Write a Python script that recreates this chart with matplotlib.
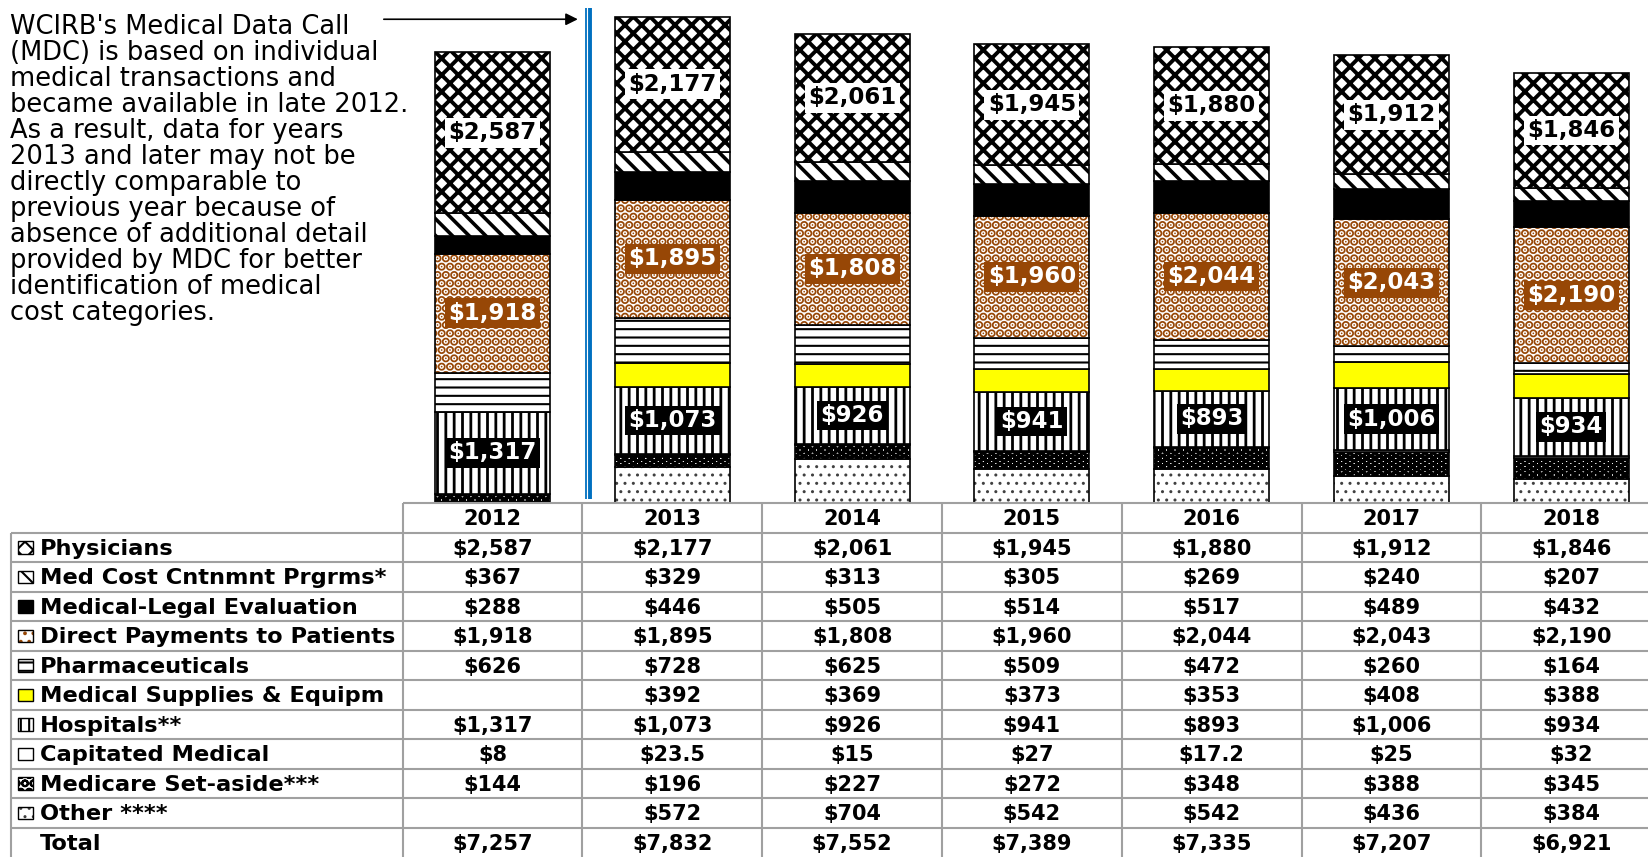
import matplotlib.pyplot as plt
from matplotlib.patches import Rectangle

years = ['2012', '2013', '2014', '2015', '2016', '2017', '2018']

# table order, top to bottom (the stack is drawn bottom-up, so reversed)
physicians = [2587, 2177, 2061, 1945, 1880, 1912, 1846]
med_cost = [367, 329, 313, 305, 269, 240, 207]
med_legal = [288, 446, 505, 514, 517, 489, 432]
direct_pay = [1918, 1895, 1808, 1960, 2044, 2043, 2190]
pharma = [626, 728, 625, 509, 472, 260, 164]
supplies = [None, 392, 369, 373, 353, 408, 388]
hospitals = [1317, 1073, 926, 941, 893, 1006, 934]
capitated = [8, 23.5, 15, 27, 17.2, 25, 32]
medicare = [144, 196, 227, 272, 348, 388, 345]
other = [None, 572, 704, 542, 542, 436, 384]
totals = [7257, 7832, 7552, 7389, 7335, 7207, 6921]

row_labels = ['Physicians', 'Med Cost Cntnmnt Prgrms*', 'Medical-Legal Evaluation',
              'Direct Payments to Patients', 'Pharmaceuticals', 'Medical Supplies & Equipm',
              'Hospitals**', 'Capitated Medical', 'Medicare Set-aside***', 'Other ****']
series = [physicians, med_cost, med_legal, direct_pay, pharma,
          supplies, hospitals, capitated, medicare, other]

note = ("WCIRB's Medical Data Call\n(MDC) is based on individual\nmedical transactions and\n"
        "became available in late 2012.\nAs a result, data for years\n2013 and later may not be\n"
        "directly comparable to\nprevious year because of\nabsence of additional detail\n"
        "provided by MDC for better\nidentification of medical\ncost categories.")

BROWN = '#974706'
BLUE = '#0070C0'
GRID = '#A0A0A0'

# face, hatch colour, hatch, hatch linewidth -- same order as the table
styles = [
    ('white', 'black', 'xx', 2.8),
    ('white', 'black', '\\\\', 2.6),
    ('black', 'black', None, 1.0),
    ('white', BROWN, '..', 4.5),
    ('white', 'black', '--', 1.5),
    ('#FFFF00', 'black', None, 1.0),
    ('white', 'black', '||', 2.0),
    ('white', 'black', None, 1.0),
    ('white', 'black', 'OO', 2.5),
    ('white', '#404040', '..', 1.0),
]

W, H = 1648, 857
TABLE_TOP = 503          # pixel row where bars end and table starts
COL0 = 402.6             # left edge of 2012 column (px)
COLW = 179.8             # column width (px)
XL = -0.5 - COL0 / COLW
XR = -0.5 + (W - COL0) / COLW


def fmt(v):
    if v is None:
        return ''
    if v == int(v):
        return '${:,.0f}'.format(v)
    return '${:,.1f}'.format(v)


def set_hlw(patch, lw):
    if hasattr(patch, 'set_hatch_linewidth'):
        patch.set_hatch_linewidth(lw)


fig = plt.figure(figsize=(W / 100, H / 100), dpi=100)

# ---- stacked bars ----
ax = fig.add_axes([0, (H - TABLE_TOP) / H, 1, TABLE_TOP / H])
ax.set_xlim(XL, XR)
ax.set_ylim(0, 8100)
ax.axis('off')

x = list(range(len(years)))
bottoms = [0.0] * len(years)
label_pos = {}
for idx in reversed(range(len(series))):
    vals = [0 if v is None else v for v in series[idx]]
    face, hcol, hatch, hlw = styles[idx]
    plt.rcParams['hatch.linewidth'] = hlw
    bars = ax.bar(x, vals, bottom=bottoms, width=0.64, color=face,
                  edgecolor=hcol, hatch=hatch, linewidth=0)
    for b in bars:
        set_hlw(b, hlw)
    ax.bar(x, vals, bottom=bottoms, width=0.64, fill=False,
           edgecolor='black', linewidth=1.2)
    label_pos[idx] = [bt + v / 2 for bt, v in zip(bottoms, vals)]
    bottoms = [bt + v for bt, v in zip(bottoms, vals)]

# value labels inside three of the segments
for i in x:
    ax.text(i, label_pos[0][i], fmt(physicians[i]), ha='center', va='center',
            fontsize=16.5, fontweight='bold', color='black',
            bbox=dict(boxstyle='square,pad=0.15', facecolor='white', edgecolor='none'))
    ax.text(i, label_pos[3][i], fmt(direct_pay[i]), ha='center', va='center',
            fontsize=16.5, fontweight='bold', color='white',
            bbox=dict(boxstyle='square,pad=0.15', facecolor=BROWN, edgecolor='none'))
    ax.text(i, label_pos[6][i], fmt(hospitals[i]), ha='center', va='center',
            fontsize=16.5, fontweight='bold', color='white',
            bbox=dict(boxstyle='square,pad=0.15', facecolor='black', edgecolor='none'))

# MDC break marker between 2012 and 2013
ax.vlines(0.520, 64, 7965, color=BLUE, linewidth=1.3)
ax.vlines(0.540, 64, 7965, color=BLUE, linewidth=2.8)

ax.annotate('', xy=(0.49, 7790), xytext=(-0.62, 7790),
            arrowprops=dict(arrowstyle='-|>', color='black', lw=1.2, mutation_scale=18))

fig.text(10.5 / W, 1 - 14 / H, note, ha='left', va='top', fontsize=18.5,
         linespacing=1.0)

# ---- data table ----
tab = fig.add_axes([0, 0, 1, (H - TABLE_TOP) / H])
tab.set_xlim(XL, XR)
tab.set_ylim(12, 0)
tab.axis('off')

LABEL_L = -0.5 - (COL0 - 10.5) / COLW
tab.hlines(0, -0.5, XR, color=GRID, linewidth=1.5, clip_on=False)
for r in range(1, 12):
    tab.hlines(r, LABEL_L, XR, color=GRID, linewidth=1.5, clip_on=False)
tab.vlines(LABEL_L, 1, 12, color=GRID, linewidth=1.5)
for j in range(len(years) + 1):
    tab.vlines(j - 0.5, 0, 12, color=GRID, linewidth=1.5)

for j, yr in enumerate(years):
    tab.text(j, 0.55, yr, ha='center', va='center', fontsize=15, fontweight='bold')
    for r, vals in enumerate(series):
        tab.text(j, r + 1.55, fmt(vals[j]), ha='center', va='center',
                 fontsize=15, fontweight='bold')
    tab.text(j, 11.55, fmt(totals[j]), ha='center', va='center',
             fontsize=15, fontweight='bold')

KEY_X = -0.5 - (COL0 - 18) / COLW
KEY_W = 15 / COLW
TEXT_X = -0.5 - (COL0 - 40) / COLW
for r, lab in enumerate(row_labels):
    face, hcol, hatch, hlw = styles[r]
    plt.rcParams['hatch.linewidth'] = min(hlw, 1.5)
    key = Rectangle((KEY_X, r + 1.3), KEY_W, 0.42, facecolor=face, edgecolor=hcol,
                    hatch=hatch, linewidth=0)
    set_hlw(key, min(hlw, 1.5))
    tab.add_patch(key)
    tab.add_patch(Rectangle((KEY_X, r + 1.3), KEY_W, 0.42, fill=False,
                            edgecolor='black', linewidth=1.0))
    tab.text(TEXT_X, r + 1.55, lab, ha='left', va='center', fontsize=16.2,
             fontweight='bold')
tab.text(TEXT_X, 11.55, 'Total', ha='left', va='center', fontsize=16.2,
         fontweight='bold')

fig.savefig('out.png', dpi=100)
